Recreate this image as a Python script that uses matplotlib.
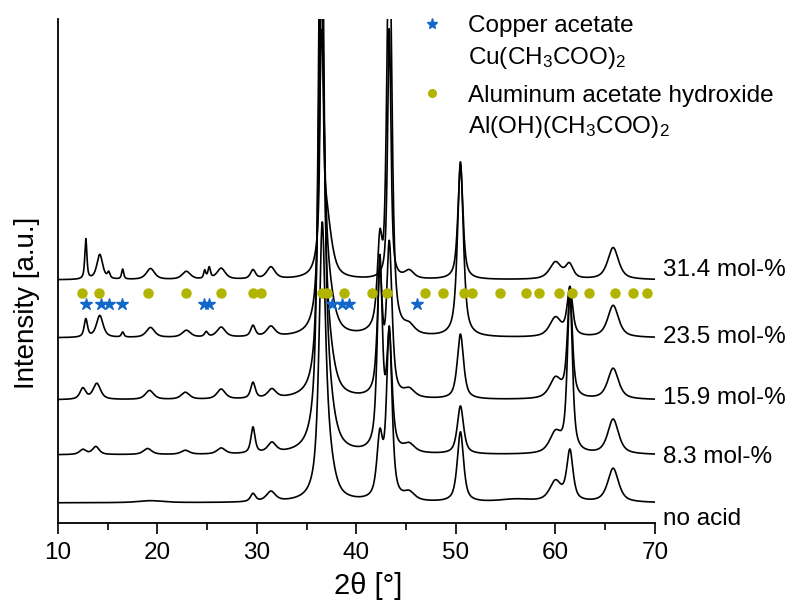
import numpy as np
import matplotlib
matplotlib.use("Agg")
import matplotlib.pyplot as plt
from matplotlib.ticker import MultipleLocator

plt.rcParams['font.family'] = ['Liberation Sans', 'DejaVu Sans']
plt.rcParams['mathtext.fontset'] = 'custom'
plt.rcParams['mathtext.rm'] = 'Liberation Sans'
plt.rcParams['mathtext.default'] = 'regular'

# sample names, vertical offsets of each scan and where the name sits
labels = ["no acid", "8.3 mol-%", "15.9 mol-%", "23.5 mol-%", "31.4 mol-%"]
offsets = [20, 68, 123, 185, 243]
label_y = [4, 66, 125, 186, 253]

# reflections of each scan: (2theta, height, fwhm)
peaks_0 = [(19.3, 2, 3.0), (29.6, 8, 0.6), (31.4, 10, 1.1), (36.55, 230, 0.7),
           (36.9, 60, 1.5), (42.35, 60, 0.7), (43.3, 170, 0.65), (45.3, 8, 1.3),
           (50.45, 70, 0.75), (56.0, 3, 4.0), (60.0, 20, 1.4), (61.45, 50, 0.75),
           (65.8, 34, 1.3)]
peaks_83 = [(12.5, 5, 0.8), (13.8, 8, 0.8), (19.0, 6, 1.0), (22.8, 4, 1.0),
            (26.4, 6, 1.0), (29.6, 26, 0.5), (31.5, 10, 1.0), (36.45, 620, 0.6),
            (36.9, 60, 1.5), (42.35, 190, 0.6), (43.3, 110, 0.65), (45.3, 8, 1.3),
            (50.45, 48, 0.75), (60.0, 20, 1.4), (61.45, 160, 0.6), (65.8, 35, 1.3)]
peaks_159 = [(12.5, 11, 0.7), (13.9, 16, 0.9), (19.2, 9, 1.0), (22.8, 7, 1.0),
             (26.4, 10, 1.0), (29.6, 16, 0.55), (31.5, 9, 1.0), (36.45, 420, 0.6),
             (36.9, 60, 1.5), (42.35, 120, 0.6), (43.3, 150, 0.65), (45.3, 8, 1.3),
             (50.45, 65, 0.75), (60.0, 20, 1.4), (61.45, 105, 0.6), (65.8, 31, 1.3)]
peaks_235 = [(12.8, 18, 0.4), (14.2, 22, 0.8), (16.5, 5, 0.3), (19.3, 10, 1.0),
             (22.9, 7, 1.0), (24.9, 5, 0.4), (26.4, 10, 1.0), (29.6, 11, 0.55),
             (31.4, 10, 1.0), (36.5, 260, 0.6), (36.9, 60, 1.5), (42.35, 80, 0.6),
             (43.3, 420, 0.6), (45.3, 8, 1.3), (50.45, 175, 0.7), (60.0, 19, 1.4),
             (61.45, 48, 0.65), (65.8, 32, 1.3)]
peaks_314 = [(12.8, 40, 0.25), (14.2, 25, 0.7), (15.1, 6, 0.3), (16.5, 10, 0.25),
             (19.3, 11, 1.0), (22.9, 8, 1.0), (24.75, 8, 0.25), (25.2, 11, 0.3),
             (26.4, 11, 1.0), (29.6, 9, 0.6), (31.4, 12, 1.0), (36.5, 300, 0.3),
             (36.9, 66, 1.3), (43.3, 250, 0.4), (45.3, 8, 1.1), (50.45, 115, 0.6),
             (60.0, 17, 1.4), (61.4, 14, 0.9), (65.8, 32, 1.3)]
scans = [peaks_0, peaks_83, peaks_159, peaks_235, peaks_314]

# reference positions
cu_acetate = [12.78, 14.29, 15.13, 16.46, 24.70, 25.18, 37.59, 38.59, 39.27, 46.05]
al_acetate = [12.44, 14.12, 19.07, 22.83, 26.41, 29.63, 30.37, 36.50, 37.00, 38.71,
              41.56, 43.10, 46.85, 48.66, 50.83, 51.61, 54.45, 57.04, 58.34, 60.35,
              61.63, 63.34, 66.01, 67.79, 69.23]
cu_row, al_row = 219, 230

blue = '#1168c8'
olive = '#b2b400'


def pattern(tt, peaks):
    y = np.zeros_like(tt)
    for pos, h, w in peaks:
        d = 2 * (tt - pos) / w
        lor = 1 / (1 + d ** 2)
        gau = np.exp(-np.log(2) * d ** 2)
        y += h * (0.7 * lor + 0.3 * gau)
    return y


tt = np.linspace(10, 70, 3001)

fig = plt.figure(figsize=(7.91, 6.08), dpi=100)
ax = fig.add_axes([0.0733, 0.140, 0.7547, 0.829])

for off, pk, lab, ly in zip(offsets, scans, labels, label_y):
    ax.plot(tt, off + pattern(tt, pk), color='black', lw=1.2)
    ax.text(70.8, ly, lab, fontsize=17.5, va='center', ha='left', clip_on=False)

ax.plot(cu_acetate, [cu_row] * len(cu_acetate), ls='none', marker='*',
        ms=9, color=blue, mec=blue)
ax.plot(al_acetate, [al_row] * len(al_acetate), ls='none', marker='o',
        ms=6.5, color=olive, mec=olive)

# legend drawn by hand
ax.plot([0.626], [0.990], transform=ax.transAxes, marker='*', ms=8,
        color=blue, clip_on=False)
ax.plot([0.626], [0.852], transform=ax.transAxes, marker='o', ms=5.5,
        color=olive, clip_on=False)
ax.text(0.687, 1.007, "Copper acetate\nCu(CH$_3$COO)$_2$", transform=ax.transAxes,
        fontsize=17.5, va='top', ha='left', linespacing=1.4, clip_on=False)
ax.text(0.687, 0.869, "Aluminum acetate hydroxide\nAl(OH)(CH$_3$COO)$_2$",
        transform=ax.transAxes, fontsize=17.5, va='top', ha='left',
        linespacing=1.4, clip_on=False)

ax.set_xlim(10, 70)
ax.set_ylim(0, 504)
ax.set_yticks([])
ax.xaxis.set_major_locator(MultipleLocator(10))
ax.xaxis.set_minor_locator(MultipleLocator(5))
ax.tick_params(axis='x', which='major', length=8, width=1.2, labelsize=17.5, pad=6)
ax.tick_params(axis='x', which='minor', length=5, width=1.2)
for s in ['top', 'right']:
    ax.spines[s].set_visible(False)
for s in ['left', 'bottom']:
    ax.spines[s].set_linewidth(1.3)

ax.set_xlabel("2θ [°]", fontsize=21)
ax.xaxis.set_label_coords(0.52, -0.097)
fig.text(27.5 / 791, 1 - 303 / 608, "Intensity [a.u.]", fontsize=20,
         rotation=90, ha='center', va='center')

fig.savefig("out.png", dpi=100)
